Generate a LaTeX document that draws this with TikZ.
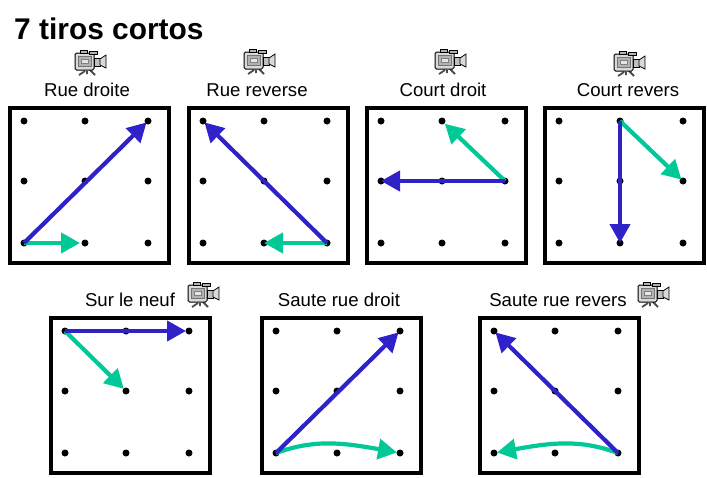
\documentclass[tikz,border=0pt]{standalone}
\usepackage{fontspec}
\setmainfont{Liberation Sans}
\usepackage{tikz}
\usetikzlibrary{arrows.meta, bending}

\definecolor{shotblue}{RGB}{46,34,200}
\definecolor{shotgreen}{RGB}{0,200,150}

\begin{document}
\begin{tikzpicture}[
  x=1pt, y=-1pt,
  court/.style={draw, line width=3.6pt, minimum width=159pt, minimum height=155pt,
                inner sep=0pt, anchor=north west},
  spot/.style={circle, fill=black, minimum size=7pt, inner sep=0pt},
  lbl/.style={font=\fontsize{18.6}{20}\selectfont},
  ball/.style={draw=shotblue, line width=4.2pt, -{Triangle[length=19pt, width=20pt, flex=0]}},
  run/.style={draw=shotgreen, line width=4.2pt, -{Triangle[length=19pt, width=20pt, flex=0]}},
  camera/.pic={
    % body, lens and tripod of the little camera
    \draw[line width=1.8pt, black!70] (-5,10) -- (-11,14) (0,9) -- (5,14) (-3,10) -- (-3,13);
    \draw[fill=black!15, line width=1pt, rounded corners=1.5pt] (-15,-8) rectangle (4,9);
    \draw[fill=black!30, draw=black!55, line width=0.7pt] (-12,-5) rectangle (1,5);
    \draw[fill=black!10, draw=black!50, line width=0.6pt] (-9,-2) rectangle (-2,2);
    \draw[fill=black!25, line width=0.8pt] (4,-3) -- (10,-3) -- (10,5) -- (4,5) -- cycle;
    \draw[fill=black!15, line width=0.8pt] (10,-2) -- (16,-6) -- (16,7) -- (10,4) -- cycle;
    \draw[fill=black!30, line width=0.8pt] (-10,-11) rectangle (-3,-8);
    \draw[fill=black!30, line width=0.8pt] (-1,-10) rectangle (7,-7);
  }]

  \useasboundingbox (0,0) rectangle (707,477);

  % Title
  \node[font=\fontsize{29.9}{32}\selectfont\bfseries, anchor=west, inner sep=0pt] (title) at (14,29) {7 tiros cortos};

  % Courts: name / left / top / label x / label y / label
  \foreach \nm/\bx/\by/\lx/\ly/\txt in {
      a/8/106/87/90/Rue droite,
      b/187/106/257/90/Rue reverse,
      c/365/106/443/90/Court droit,
      d/543/106/628/90/Court revers,
      e/49/316/130/300/Sur le neuf,
      f/260/316/339/300/Saute rue droit,
      g/478/316/558/300/Saute rue revers} {
    \node[court] (\nm box) at (\bx,\by) {};
    \node[lbl] (\nm lbl) at (\lx,\ly) {\txt};
    \foreach \i/\dx in {1/16,2/77,3/140}
      \foreach \j/\dy in {1/15,2/75,3/137}
        \node[spot] (\nm\j\i) at (\bx+\dx,\by+\dy) {};
  }

  % Cameras
  \pic at (90,61) {camera};
  \pic at (259,60) {camera};
  \pic at (450,60) {camera};
  \pic at (629,62) {camera};
  \pic at (203,293) {camera};
  \pic at (653,293) {camera};

  % Rue droite
  \draw[run, shorten >=5pt] (a31.center) -- (a32.center);
  \draw[ball, shorten >=2pt] (a31.center) -- (a13.center);

  % Rue reverse
  \draw[run] (b33.center) -- (b32.center);
  \draw[ball, shorten >=2pt] (b33.center) -- (b11.center);

  % Court droit
  \draw[run, shorten >=4pt] (c23.center) -- (c12.center);
  \draw[ball] (c23.center) -- (c21.center);

  % Court revers
  \draw[run, shorten >=2pt] (d12.center) -- (d23.center);
  \draw[ball] (d12.center) -- (d32.center);

  % Sur le neuf
  \draw[run, shorten >=3pt] (e11.center) -- (e22.center);
  \draw[ball, shorten >=3pt] (e11.center) -- (e13.center);

  % Saute rue droit
  \draw[run, shorten >=3pt] (f31.center) to[out=20, in=170] (f33.center);
  \draw[ball, shorten >=2pt] (f31.center) -- (f13.center);

  % Saute rue revers
  \draw[run, shorten >=3pt] (g33.center) to[out=160, in=10] (g31.center);
  \draw[ball, shorten >=2pt] (g33.center) -- (g11.center);

\end{tikzpicture}
\end{document}
